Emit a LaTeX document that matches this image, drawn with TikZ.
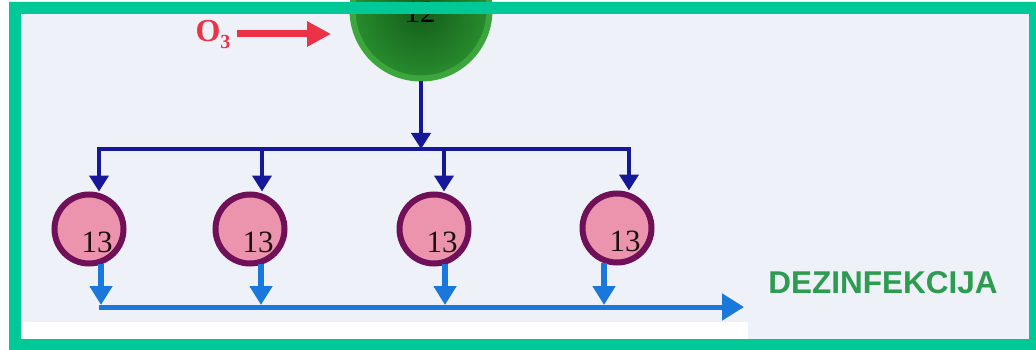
\documentclass[tikz,border=0pt]{standalone}
\usepackage{fontspec}
\setmainfont{Liberation Serif}
\newfontfamily\labsans{Liberation Sans}
\usetikzlibrary{arrows.meta,calc}
\definecolor{framegreen}{RGB}{0,200,150}
\definecolor{bgpaper}{RGB}{238,241,248}
\definecolor{navyline}{RGB}{22,24,154}
\definecolor{lightline}{RGB}{26,120,220}
\definecolor{pinkfill}{RGB}{236,148,174}
\definecolor{pinkrim}{RGB}{112,16,88}
\definecolor{ozred}{RGB}{235,50,70}
\definecolor{dezgreen}{RGB}{45,155,80}
\definecolor{gdark}{RGB}{18,92,24}
\definecolor{glight}{RGB}{40,140,46}
\definecolor{grim}{RGB}{60,165,60}
\definecolor{numink}{RGB}{30,16,16}
\tikzset{
  pinkc/.style={circle,fill=pinkfill,draw=pinkrim,line width=6pt,minimum size=69pt,inner sep=0pt},
  greenc/.style={circle,inner color=gdark,outer color=glight,draw=grim,line width=6pt,minimum size=137pt,inner sep=0pt},
  numtxt/.style={inner sep=0pt,text=numink,font=\fontsize{31}{31}\selectfont},
  navyarrow/.style={draw=navyline,line width=4pt,-{Triangle[length=16pt,width=19pt]}},
  navybus/.style={draw=navyline,line width=4pt,line cap=rect},
  lightarrow/.style={draw=lightline,line width=5.5pt,-{Triangle[length=19pt,width=22pt]}},
  lightbus/.style={draw=lightline,line width=5pt,-{Triangle[length=22pt,width=26pt]}},
  redarrow/.style={draw=ozred,line width=7pt,-{Triangle[length=24pt,width=24pt]}},
}
\begin{document}
\begin{tikzpicture}[x=1pt,y=-1pt]
\useasboundingbox (0,0) rectangle (1036,350);
\fill[white] (0,0) rectangle (1036,350);
\fill[bgpaper] (21,14) rectangle (1029,339);
\fill[white] (21,322) rectangle (748,339);

% ozonation contactor
\node[greenc] (g) at (421,10) {};
\node[numtxt,anchor=base,text=black] (gt) at (420,23) {12};

% ozone input
\node[inner sep=0pt,text=ozred,font=\fontsize{32}{32}\selectfont\bfseries] (o3) at (213,35) {O\raisebox{-7pt}{\fontsize{20}{20}\selectfont 3}};
\coordinate (redtip) at (331,34);
\draw[redarrow,shorten <=6pt] (o3.east |- redtip) -- (redtip);

% upper distribution bus
\coordinate (b1) at (99,149);
\coordinate (b2) at (262,149);
\coordinate (b3) at (444,149);
\coordinate (b4) at (629,149);
\coordinate (bin) at (421,149);
\draw[navybus] (b1) -- (b4);
\draw[navyarrow] (g.south) -- (bin);

% reactors
\node[pinkc] (c1) at (89,229) {};
\node[pinkc] (c2) at (250,229) {};
\node[pinkc] (c3) at (434,229) {};
\node[pinkc] (c4) at (617,228) {};
\node[numtxt] (t1) at ($(c1)+(8,13)$) {13};
\node[numtxt] (t2) at ($(c2)+(8,13)$) {13};
\node[numtxt] (t3) at ($(c3)+(8,13)$) {13};
\node[numtxt] (t4) at ($(c4)+(8,13)$) {13};

\draw[navyarrow] (b1) -- (b1 |- c1.north);
\draw[navyarrow] (b2) -- (b2 |- c2.north);
\draw[navyarrow] (b3) -- (b3 |- c3.north);
\draw[navyarrow] (b4) -- (b4 |- c4.north);

% lower collection bus
\coordinate (e1) at (101,307);
\coordinate (e2) at (261,307);
\coordinate (e3) at (445,307);
\coordinate (e4) at (604,307);
\coordinate (eout) at (744,307);
\draw[lightarrow] ($(e1 |- c1.south)+(0,-3)$) -- ($(e1)+(0,-2)$);
\draw[lightarrow] ($(e2 |- c2.south)+(0,-3)$) -- ($(e2)+(0,-2)$);
\draw[lightarrow] ($(e3 |- c3.south)+(0,-3)$) -- ($(e3)+(0,-2)$);
\draw[lightarrow] ($(e4 |- c4.south)+(0,-3)$) -- ($(e4)+(0,-2)$);
\draw[lightbus] ($(e1)+(-2.5,0)$) -- (eout);

\node[inner sep=0pt,text=dezgreen,font=\labsans\bfseries\fontsize{31.5}{31.5}\selectfont] (dez) at (883,283) {DEZINFEKCIJA};

% frame
\fill[framegreen,even odd rule] (9,2) rectangle (1036,350) (21,14) rectangle (1029,339);
\end{tikzpicture}
\end{document}
